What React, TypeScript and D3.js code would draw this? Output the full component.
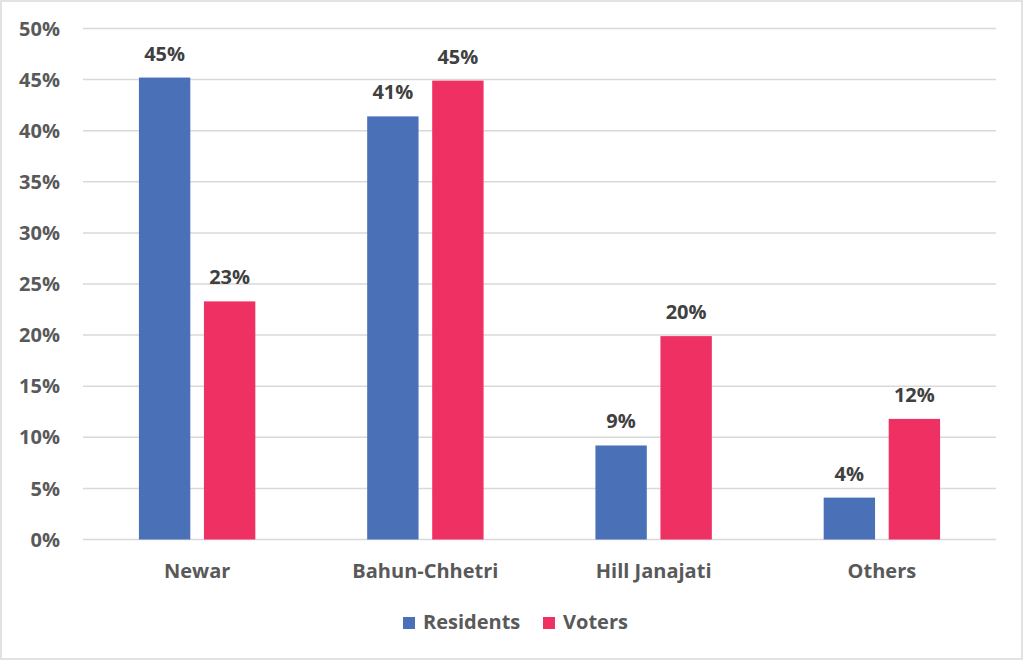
import React, { useEffect, useRef } from "react";
import * as d3 from "d3";

const categories = ["Newar", "Bahun-Chhetri", "Hill Janajati", "Others"];
const seriesNames = ["Residents", "Voters"];
const residents = [0.452, 0.414, 0.092, 0.041];
const voters = [0.233, 0.449, 0.199, 0.118];
const yTicks = [0, 0.05, 0.1, 0.15, 0.2, 0.25, 0.3, 0.35, 0.4, 0.45, 0.5];

const colors: { [k: string]: string } = {
  Residents: "#4a71b7",
  Voters: "#ef3062",
};

export default function App() {
  const svgRef = useRef<SVGSVGElement>(null);

  useEffect(() => {
    if (!svgRef.current) return;
    const width = 1024;
    const height = 661;
    const svg = d3.select(svgRef.current);
    svg.attr("width", width).attr("height", height);
    svg.selectAll("*").remove();

    const font = "'Open Sans', sans-serif";

    // chart frame
    svg
      .append("rect")
      .attr("x", 1)
      .attr("y", 1)
      .attr("width", 1021)
      .attr("height", 658)
      .style("fill", "#fff")
      .style("stroke", "#d9d9d9")
      .style("stroke-width", 1.5);

    const x0 = d3
      .scaleBand<string>()
      .domain(categories)
      .range([83, 996])
      .paddingInner(0.49)
      .paddingOuter(0.245);

    const x1 = d3
      .scaleBand<string>()
      .domain(seriesNames)
      .range([0, x0.bandwidth()])
      .paddingInner(0.21);

    const y = d3.scaleLinear().domain([0, 0.5]).range([539.5, 28.5]);

    // grid
    yTicks.forEach((t) => {
      svg
        .append("line")
        .attr("x1", 83)
        .attr("x2", 996)
        .attr("y1", y(t))
        .attr("y2", y(t))
        .style("stroke", "#d9d9d9")
        .style("stroke-width", 1.5);
    });

    // y axis
    const yAxis = d3
      .axisLeft(y)
      .tickValues(yTicks)
      .tickFormat((d) => `${Math.round((d as number) * 100)}%`)
      .tickSize(0)
      .tickPadding(0);

    svg
      .append("g")
      .attr("class", "y-axis")
      .attr("transform", "translate(60,0)")
      .call(yAxis);

    svg
      .selectAll(".y-axis text")
      .style("font-family", font)
      .style("font-size", "20px")
      .style("font-weight", "700")
      .style("fill", "#595959")
      .attr("dy", "0.33em");

    svg.selectAll("g .domain").remove();

    const rows = categories.map((c, i) => ({
      category: c,
      values: [
        { name: "Residents", value: residents[i] },
        { name: "Voters", value: voters[i] },
      ],
    }));

    const groups = svg
      .selectAll(".group")
      .data(rows)
      .enter()
      .append("g")
      .attr("transform", (d) => `translate(${x0(d.category)},0)`);

    groups
      .selectAll("rect")
      .data((d) => d.values)
      .enter()
      .append("rect")
      .attr("x", (d) => x1(d.name)!)
      .attr("y", (d) => y(d.value))
      .attr("width", x1.bandwidth())
      .attr("height", (d) => y(0) - y(d.value))
      .style("fill", (d) => colors[d.name]);

    groups
      .selectAll(".lbl")
      .data((d) => d.values)
      .enter()
      .append("text")
      .attr("x", (d) => x1(d.name)! + x1.bandwidth() / 2)
      .attr("y", (d) => y(d.value) - 17)
      .attr("text-anchor", "middle")
      .text((d) => `${Math.round(d.value * 100)}%`)
      .style("font-family", font)
      .style("font-size", "20px")
      .style("font-weight", "700")
      .style("fill", "#404040");

    // category labels
    const xAxis = d3.axisBottom(x0).tickSize(0).tickPadding(0);
    svg
      .append("g")
      .attr("class", "x-axis")
      .attr("transform", "translate(0,578)")
      .call(xAxis);
    svg.selectAll(".x-axis .domain").remove();
    svg
      .selectAll(".x-axis text")
      .attr("dy", 0)
      .attr("y", 0)
      .style("font-family", font)
      .style("font-size", "20px")
      .style("font-weight", "700")
      .style("fill", "#595959");

    // legend
    const legendX = [403, 543];
    seriesNames.forEach((s, i) => {
      svg
        .append("rect")
        .attr("x", legendX[i])
        .attr("y", 617)
        .attr("width", 12)
        .attr("height", 12)
        .style("fill", colors[s]);
      svg
        .append("text")
        .attr("x", legendX[i] + 20)
        .attr("y", 629)
        .text(s)
        .style("font-family", font)
        .style("font-size", "20px")
        .style("font-weight", "700")
        .style("fill", "#595959");
    });
  }, []);

  return (
    <svg
      ref={svgRef}
      style={{ position: "absolute", left: 0, top: 0, display: "block" }}
    />
  );
}
